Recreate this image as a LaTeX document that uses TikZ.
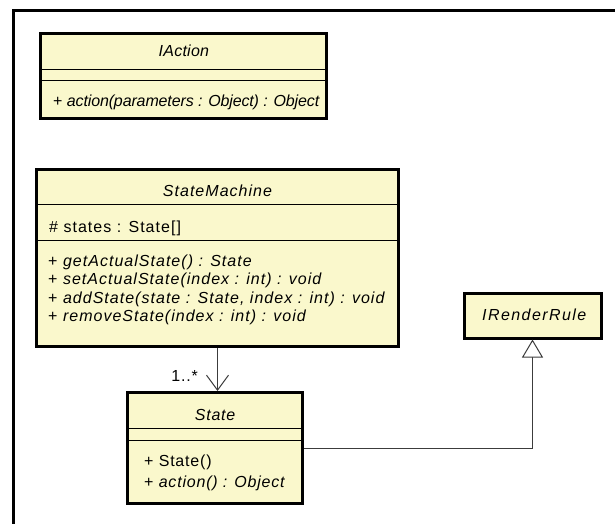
\documentclass[tikz,border=0pt]{standalone}
\usepackage{fontspec}
\setmainfont{Liberation Sans}
\newfontfamily\umlfont[LetterSpace=6.4]{Liberation Sans}
\newfontfamily\umlia[LetterSpace=-0.8]{Liberation Sans}
\newfontfamily\umlian[LetterSpace=1.5]{Liberation Sans}
\newfontfamily\umlrr[LetterSpace=9]{Liberation Sans}
\newfontfamily\umlst[LetterSpace=5]{Liberation Sans}
\usetikzlibrary{arrows.meta}
\definecolor{clsfill}{RGB}{250,248,204}
\definecolor{conn}{RGB}{60,60,60}
\tikzset{
  cls/.style={draw=black, line width=3pt, fill=clsfill, rectangle, inner sep=0pt},
  sep/.style={draw=black, line width=1pt},
  txt/.style={inner sep=0pt, font=\umlfont\fontsize{16}{19}\selectfont},
  lft/.style={txt, anchor=base west},
  ctr/.style={txt, anchor=base},
  assoc/.style={draw=conn, line width=1pt, -{Straight Barb[length=15pt,width=22pt,line width=1pt]}},
  gen/.style={draw=conn, line width=1pt, -{Triangle[open, length=18pt, width=21pt, line width=1pt, fill=white]}},
}
\begin{document}
\begin{tikzpicture}[x=1pt,y=-1pt]
\useasboundingbox (0,0) rectangle (615,523);
\clip (0,0) rectangle (615,523);
\fill[white] (0,0) rectangle (615,523);
% frame
\draw[line width=3pt] (13.5,540) |- (640,10.5);

% IAction
\node[cls, minimum width=286pt, minimum height=85pt] (ia) at (183.5,76) {};
\draw[sep] (40.5,69) -- (326.5,69);
\draw[sep] (40.5,80) -- (326.5,80);
\node[ctr, font=\umlian\fontsize{16}{19}\selectfont] (ianame) at (184,56) {\textit{IAction}};
\node[lft, font=\umlia\fontsize{16}{19}\selectfont] (iam1) at (53,106) {+ \textit{action(parameters : Object) : Object}};

% StateMachine
\node[cls, minimum width=362pt, minimum height=176.5pt] (sm) at (217.5,257.75) {};
\draw[sep] (36.5,204) -- (398.5,204);
\draw[sep] (36.5,240) -- (398.5,240);
\node[ctr] (smname) at (218,196) {\textit{StateMachine}};
\node[lft] (sma1) at (49,232.5) {\# states : State[]};
\node[lft] (smm1) at (48,266) {+ \textit{getActualState() : State}};
\node[lft] (smm2) at (48,284.5) {+ \textit{setActualState(index : int) : void}};
\node[lft] (smm3) at (48,303) {+ \textit{addState(state : State, index : int) : void}};
\node[lft] (smm4) at (48,321.5) {+ \textit{removeState(index : int) : void}};

% State
\node[cls, minimum width=175pt, minimum height=111pt] (st) at (215,448) {};
\draw[sep] (127.5,428) -- (302.5,428);
\draw[sep] (127.5,440) -- (302.5,440);
\node[ctr, font=\umlst\fontsize{16}{19}\selectfont] (stname) at (215.5,420) {\textit{State}};
\node[lft, font=\umlst\fontsize{16}{19}\selectfont] (stm1) at (144,466) {+ State()};
\node[lft, font=\umlst\fontsize{16}{19}\selectfont] (stm2) at (144,487) {+ \textit{action() : Object}};

% IRenderRule
\node[cls, minimum width=137pt, minimum height=44.5pt] (rr) at (532.5,315.75) {};
\node[ctr, font=\umlrr\fontsize{16}{19}\selectfont] (rrname) at (535,320.7) {\textit{IRenderRule}};

% connectors
\draw[assoc] (sm.south) -- (sm.south |- st.north);
\node[txt, anchor=base east, font=\umlst\fontsize{16}{19}\selectfont] (mult) at (198,381.5) {1..*};
\draw[gen] (st.east) -| (rr.south);
\end{tikzpicture}
\end{document}
